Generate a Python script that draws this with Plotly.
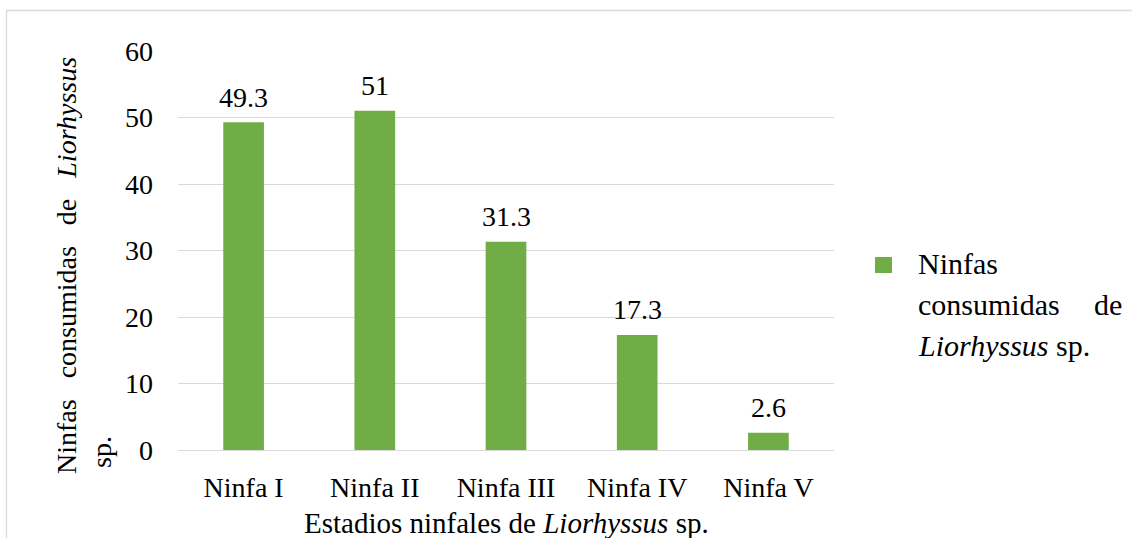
import plotly.graph_objects as go

categories = ["Ninfa I", "Ninfa II", "Ninfa III", "Ninfa IV", "Ninfa V"]
values = [49.3, 51, 31.3, 17.3, 2.6]
value_labels = ["49.3", "51", "31.3", "17.3", "2.6"]
y_ticks = [0, 10, 20, 30, 40, 50, 60]

FONT = "Liberation Serif, Times New Roman, serif"
FS = 28
GREEN = "#70AD47"
GRID = "#d9d9d9"

W, H = 1132, 538
L, R, T, B = 178, 298, 51, 88
PW, PH = W - L - R, H - T - B

def px(x):
    return (x - L) / PW

def py(y):
    return (H - B - y) / PH

fig = go.Figure()
fig.add_trace(go.Bar(
    x=categories, y=values, marker=dict(color=GREEN, line=dict(width=0)),
    showlegend=False, hoverinfo="x+y",
))

tfont = dict(family=FONT, size=FS, color="#000")
xtfont = dict(family=FONT, size=29, color="#000")
lfont = dict(family=FONT, size=30, color="#000")
annotations = []
for c, v, t in zip(categories, values, value_labels):
    annotations.append(dict(x=c, y=v, xref="x", yref="y", text=t, showarrow=False,
                            yanchor="middle", xanchor="center", yshift=25, font=tfont))

nb = "\u00a0" * 3
# y axis title (justified, two lines)
annotations.append(dict(x=px(66), y=py(266), xref="paper", yref="paper",
                        text=f"Ninfas{nb}consumidas{nb}de{nb}<i>Liorhyssus</i>",
                        textangle=-90, showarrow=False, xanchor="center", yanchor="middle",
                        font=tfont))
annotations.append(dict(x=px(101), y=py(470), xref="paper", yref="paper",
                        text="sp.", textangle=-90, showarrow=False,
                        xanchor="center", yanchor="bottom", font=tfont))
# x axis title
annotations.append(dict(x=px(507), y=py(523), xref="paper", yref="paper",
                        text="Estadios ninfales de <i>Liorhyssus</i> sp.",
                        showarrow=False, xanchor="center", yanchor="middle", font=xtfont))
# legend text
annotations.append(dict(x=px(916), y=py(263), xref="paper", yref="paper", text="Ninfas",
                        showarrow=False, xanchor="left", yanchor="middle", font=lfont))
annotations.append(dict(x=px(916), y=py(304), xref="paper", yref="paper", text="consumidas",
                        showarrow=False, xanchor="left", yanchor="middle", font=lfont))
annotations.append(dict(x=px(1124), y=py(304), xref="paper", yref="paper", text="de",
                        showarrow=False, xanchor="right", yanchor="middle", font=lfont))
annotations.append(dict(x=px(916), y=py(345), xref="paper", yref="paper",
                        text="<i>Liorhyssus</i> sp.",
                        showarrow=False, xanchor="left", yanchor="middle", font=lfont))

shapes = [
    dict(type="rect", xref="paper", yref="paper",
         x0=px(6.5), x1=px(1145), y0=py(560), y1=py(10.5),
         line=dict(color=GRID, width=1.3), fillcolor="rgba(0,0,0,0)", layer="below"),
    dict(type="rect", xref="paper", yref="paper",
         x0=px(875), x1=px(892), y0=py(273), y1=py(257),
         line=dict(width=0), fillcolor=GREEN),
]

fig.update_layout(
    width=W, height=H,
    margin=dict(l=L, r=R, t=T, b=B, pad=0),
    paper_bgcolor="white", plot_bgcolor="white",
    bargap=0.69,
    font=tfont,
    annotations=annotations,
    shapes=shapes,
    xaxis=dict(type="category", showgrid=False, showline=False, zeroline=False,
               ticks="", ticklabelstandoff=18, tickfont=tfont),
    yaxis=dict(range=[0, 60], tickvals=y_ticks, showgrid=True, gridcolor=GRID, gridwidth=1.3,
               zeroline=True, zerolinecolor=GRID, zerolinewidth=1.3, showline=False,
               ticks="", ticklabelstandoff=24, tickfont=tfont),
)

fig.write_html("out.html")
